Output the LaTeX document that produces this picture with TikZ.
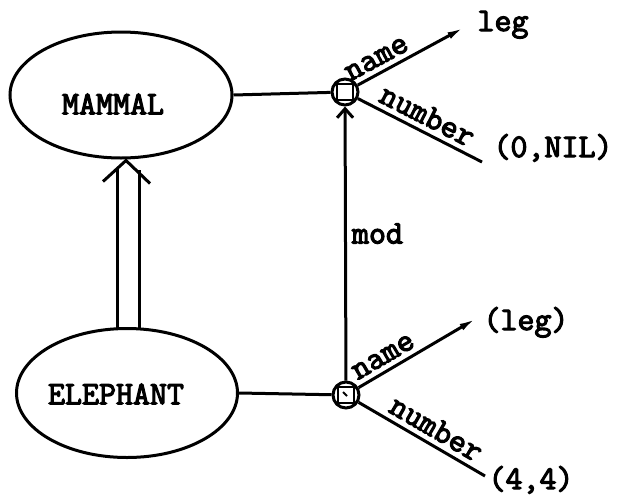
\documentclass[tikz,border=0pt]{standalone}
\usepackage{fontspec}
\newfontfamily\typew{Latin Modern Mono}[FakeBold=3.5]
\usetikzlibrary{shapes.geometric,arrows.meta,calc}
\begin{document}
\begin{tikzpicture}[x=1pt,y=-1pt,
  line width=3pt,
  txt/.style={font=\fontsize{33}{34}\typew, inner sep=0pt},
  lbl/.style={font=\fontsize{33}{34}\typew, inner sep=5pt},
  frame/.style={ellipse, draw, inner sep=0pt},
  junction/.style={circle, draw, minimum size=26pt, inner sep=0pt,
    path picture={\draw[line width=2.2pt] ($(path picture bounding box.center)+(-8,-8)$) rectangle ($(path picture bounding box.center)+(8,8)$);}},
  slot/.style={-{Latex[length=18pt,width=7pt]}},
  modarrow/.style={-{Straight Barb[length=9pt,width=16pt]}}
]
\useasboundingbox (0,0) rectangle (618,496);

\node[frame, minimum width=222pt, minimum height=126pt] (mammal) at (121,95) {};
\node[txt] (mammaltext) at (113,104) {MAMMAL};
\node[frame, minimum width=221pt, minimum height=129pt] (elephant) at (127,393) {};
\node[txt] (elephanttext) at (116,394) {ELEPHANT};

\node[junction] (j1) at (345,92) {};
\node[junction] (j2) at (346,395) {};
\draw[line width=2pt] ($(j2)+(-3,-3)$) -- ($(j2)+(1,1)$);

\coordinate (leg1) at (465,27);
\coordinate (nil1) at (482,162);
\coordinate (leg2) at (477,318);
\coordinate (four) at (485,476);

\node[txt, anchor=base west] (legt) at (476,31) {leg};
\node[txt, anchor=base west] (nilt) at (492,157) {(0,NIL)};
\node[txt, anchor=base west] (leg2t) at (482,330) {(leg)};
\node[txt, anchor=base west] (fourt) at (487,489) {(4,4)};

% horizontal connectors
\draw (mammal.east) -- (j1);
\draw (elephant.east) -- (j2);

% mod
\draw[modarrow] (j2) -- node[txt, anchor=base west, pos=0.5, xshift=5pt] (modt) {mod} (j1);

% slots
\draw[slot] (j1) -- node[lbl, sloped, above, pos=0.24] {name} (leg1);
\draw (j1) -- node[lbl, sloped, above, pos=0.5] {number} (nil1);
\draw[slot] (j2) -- node[lbl, sloped, above, pos=0.27] {name} (leg2);
\draw (j2) -- node[lbl, sloped, above, pos=0.55] {number} (four);

% is-a double arrow
\draw ($(elephant.north)+(-10,2)$) -- ($(mammal.south)+(-4,8)$);
\draw ($(elephant.north)+(12,2)$) -- ($(mammal.south)+(18,10)$);
\draw ($(mammal.south)+(-18,22)$) -- ($(mammal.south)+(5,1)$) -- ($(mammal.south)+(29,24)$);
\end{tikzpicture}
\end{document}
